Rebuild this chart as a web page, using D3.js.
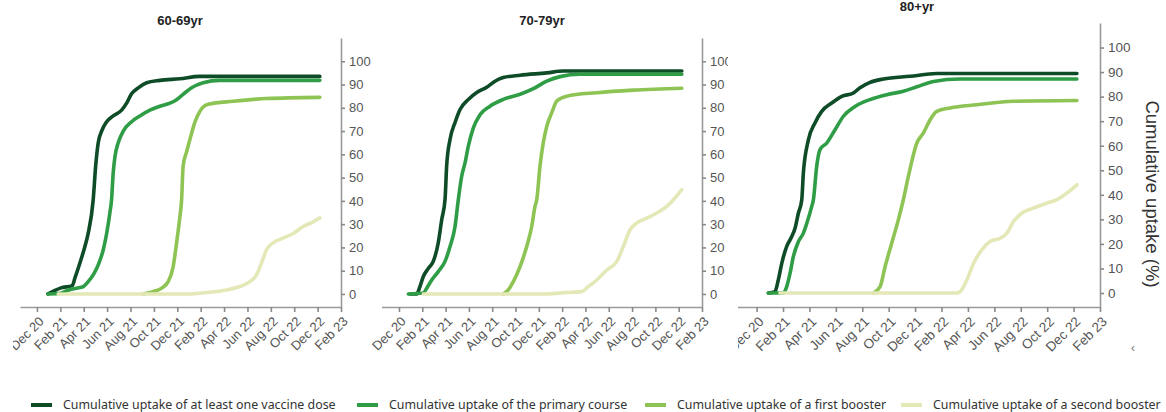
<!DOCTYPE html>
<html>
<head>
<meta charset="utf-8">
<script src="https://cdn.jsdelivr.net/npm/d3@7"></script>
<style>
  html, body { margin: 0; padding: 0; background: #fff; }
  svg { display: block; }
</style>
</head>
<body>
<svg id="chart" width="1166" height="412"></svg>
<script>
// ---------- DATA (x = months since Dec 2020, y = cumulative uptake %) ----------
const panelTitles = ["60-69yr", "70-79yr", "80+yr"];
const xTickMonths = [0, 2, 4, 6, 8, 10, 12, 14, 16, 18, 20, 22, 24, 26];
const xTickLabels = ["Dec 20","Feb 21","Apr 21","Jun 21","Aug 21","Oct 21","Dec 21","Feb 22","Apr 22","Jun 22","Aug 22","Oct 22","Dec 22","Feb 23"];
const yTickValues = [0, 10, 20, 30, 40, 50, 60, 70, 80, 90, 100];
const seriesNames = [
  "Cumulative uptake of at least one vaccine dose",
  "Cumulative uptake of the primary course",
  "Cumulative uptake of a first booster",
  "Cumulative uptake of a second booster"
];
const yAxisTitle = "Cumulative uptake (%)";

// 60-69yr
const age60_dose1 = [[0.94,0],[1.54,1.5],[2.05,2.6],[3.02,3.6],[3.25,6.9],[3.68,13.4],[4.10,20.4],[4.38,26],[4.81,40.5],[5.02,55],[5.24,65],[5.53,70],[5.96,74],[6.52,76.5],[7.24,79],[7.67,82],[8.09,86],[8.66,88.6],[9.38,90.8],[10.51,91.8],[12.22,92.5],[13.93,93.5],[24.19,93.5]];
const age60_primary = [[0.94,0],[2.05,0.3],[2.54,1.4],[3.39,2.5],[3.96,3.2],[4.38,5.3],[4.81,8.2],[5.24,12.5],[5.67,19],[5.96,26],[6.24,35],[6.38,40.5],[6.52,52],[6.67,59],[6.95,65],[7.38,70],[8.09,74],[8.80,76.5],[9.66,79],[10.51,80.7],[11.37,82],[11.94,83.5],[12.50,85.8],[13.22,88.6],[14.21,90.8],[15.64,91.8],[24.19,91.8]];
const age60_booster1 = [[9.09,0],[9.94,1],[10.66,2.5],[11.22,5.3],[11.65,11.8],[11.94,22],[12.22,33],[12.37,40.5],[12.50,55],[12.79,61],[13.08,66.4],[13.50,73.7],[13.93,78.5],[14.64,81.5],[16.78,82.8],[19.63,84],[24.19,84.5]];
const age60_booster2 = [[1.82,0],[12.79,0],[14.50,0.6],[16.21,1.7],[17.35,3.2],[18.21,5.3],[18.78,8.2],[19.21,13.4],[19.63,19],[20.20,22],[21.05,24],[21.91,26],[22.77,29],[23.62,31],[24.19,32.7]];

// 70-79yr
const age70_dose1 = [[0.94,0],[1.52,0],[1.80,3.2],[2.09,7.5],[2.52,11],[2.94,14],[3.37,22],[3.67,32],[3.95,40.5],[4.09,55],[4.38,66.4],[4.81,73.7],[5.24,79.3],[5.95,83.6],[6.67,86.6],[7.53,88.8],[8.24,91.4],[8.95,93],[10.39,94],[12.68,95],[14.10,95.8],[24.27,95.8]];
const age70_primary = [[0.80,0],[2.09,0.4],[2.38,2.5],[2.81,6],[3.37,9.6],[3.95,14],[4.38,20.4],[4.81,29],[5.09,40.5],[5.38,50.6],[5.67,56.4],[5.95,63.5],[6.38,71.4],[6.95,77],[7.81,80.7],[8.95,83.6],[10.39,85.8],[11.53,88.2],[12.68,91.5],[13.82,93.4],[15.54,94.4],[24.27,94.4]];
const age70_booster1 = [[8.95,0],[9.38,1.8],[9.81,5.3],[10.39,11.8],[10.96,20.4],[11.39,29],[11.67,37.6],[11.82,40.5],[12.10,55],[12.38,65],[12.68,72],[13.11,77.9],[13.54,82.9],[14.39,85],[16.97,86.5],[20.11,87.6],[24.27,88.4]];
const age70_booster2 = [[2.09,0],[12.68,0],[14.39,0.6],[15.68,1],[16.25,3.2],[16.97,6],[17.83,10.3],[18.69,14],[19.25,20.4],[19.83,27.6],[20.40,30.5],[21.26,32.6],[22.12,34.8],[22.98,37.6],[23.55,40.5],[24.27,44.8]];

// 80+yr
const age80_dose1 = [[0.89,0],[1.39,0.6],[1.64,5.3],[1.90,12],[2.28,19],[2.66,23],[2.91,26.4],[3.16,32.5],[3.42,38],[3.54,48.9],[3.92,62.4],[4.42,69.3],[4.93,74],[5.69,77.4],[6.45,80.1],[7.33,81.5],[7.83,83.6],[8.59,85.8],[9.60,87.2],[11.62,88.3],[13.64,89.4],[24.25,89.4]];
const age80_primary = [[0.89,0],[2.02,0],[2.28,2.6],[2.53,8],[2.78,14.8],[3.16,20.9],[3.54,24.4],[3.80,28.4],[4.17,35.2],[4.30,38],[4.55,51.6],[4.80,58.4],[5.31,61.1],[5.94,66.5],[6.57,72],[7.45,76],[8.59,78.8],[9.86,80.8],[11.11,82.2],[12.13,84],[13.39,86.2],[15.41,87.2],[24.25,87.2]];
const age80_booster1 = [[8.84,0],[9.35,2.6],[9.73,10.8],[10.23,20.3],[10.73,29.8],[11.11,38],[11.49,47.5],[12.13,61.1],[12.63,65.2],[13.14,70.6],[13.64,74],[14.65,75.4],[16.67,76.7],[19.45,78.1],[24.25,78.4]];
const age80_booster2 = [[1.77,0],[15.16,0],[15.41,0.6],[15.92,5.3],[16.42,12],[17.05,17.6],[17.68,21],[18.44,22.3],[18.95,24.4],[19.45,29.1],[20.08,32.5],[20.96,34.6],[21.98,36.6],[22.73,38],[23.49,40.7],[24.25,44.1]];

const panelData = [
  [age60_dose1, age60_primary, age60_booster1, age60_booster2],
  [age70_dose1, age70_primary, age70_booster1, age70_booster2],
  [age80_dose1, age80_primary, age80_booster1, age80_booster2]
];

// ---------- STYLE / LAYOUT ----------
const colors = ["#0e4b27", "#2f9d45", "#8dc454", "#e4e8b7"];
const panels = [
  { x0: 20,    x1: 341,  xMin: -1.45, yTop: 38, yBot: 307, yMin: -5.6, titleX: 180, titleY: 25, clip: [13, 0, 360, 412], tickFont: 13 },
  { x0: 381.5, x1: 702,  xMin: -1.5,  yTop: 38, yBot: 307, yMin: -5.6, titleX: 542, titleY: 25, clip: [370, 0, 358, 412], tickFont: 13 },
  { x0: 736.8, x1: 1100, xMin: -1.5,  yTop: 23, yBot: 307, yMin: -5.7, titleX: 917, titleY: 11, clip: [738, 0, 428, 412], tickFont: 13.5 }
];

const svg = d3.select("#chart");
const defs = svg.append("defs");
const tickFontFamily = "'Liberation Sans', Arial, sans-serif";

panels.forEach((p, i) => {
  defs.append("clipPath").attr("id", "clip" + i)
    .append("rect").attr("x", p.clip[0]).attr("y", p.clip[1]).attr("width", p.clip[2]).attr("height", p.clip[3]);

  const g = svg.append("g").attr("clip-path", `url(#clip${i})`);

  const x = d3.scaleLinear().domain([p.xMin, 26]).range([p.x0, p.x1]);
  const y = d3.scaleLinear().domain([p.yMin, 110]).range([p.yBot, p.yTop]);

  // title
  g.append("text")
    .attr("x", p.titleX).attr("y", p.titleY)
    .attr("text-anchor", "middle")
    .style("font-family", tickFontFamily)
    .style("font-weight", "bold")
    .style("font-size", "13px")
    .style("fill", "#222")
    .text(panelTitles[i]);

  // x axis
  const xAxis = d3.axisBottom(x)
    .tickValues(xTickMonths)
    .tickFormat((d, k) => xTickLabels[k])
    .tickSizeOuter(0)
    .tickSizeInner(5);
  const gx = g.append("g").attr("transform", `translate(0,${p.yBot})`).call(xAxis);
  gx.select(".domain").attr("stroke", "#9a9a9a").attr("stroke-width", 1.6);
  gx.selectAll(".tick line").attr("stroke", "#8a8a8a").attr("stroke-width", 1.6);
  gx.selectAll(".tick text")
    .attr("x", 0).attr("y", 0)
    .attr("dy", "0.35em")
    .attr("text-anchor", "end")
    .attr("transform", "translate(4,12) rotate(-45)")
    .style("font-family", tickFontFamily)
    .style("font-size", p.tickFont + "px")
    .style("fill", "#555");

  // y axis (right)
  const yAxis = d3.axisRight(y)
    .tickValues(yTickValues)
    .tickSizeOuter(0)
    .tickSizeInner(4)
    .tickPadding(4);
  const gy = g.append("g").attr("transform", `translate(${p.x1},0)`).call(yAxis);
  gy.select(".domain").attr("stroke", "#9a9a9a").attr("stroke-width", 1.6);
  gy.selectAll(".tick line").attr("stroke", "#8a8a8a").attr("stroke-width", 1.6);
  gy.selectAll(".tick text")
    .style("font-family", tickFontFamily)
    .style("font-size", p.tickFont + "px")
    .style("fill", "#555");

  // lines
  const line = d3.line()
    .x(d => x(d[0]))
    .y(d => y(d[1]))
    .curve(d3.curveMonotoneX);

  panelData[i].forEach((ser, s) => {
    g.append("path")
      .datum(ser)
      .attr("d", line)
      .attr("fill", "none")
      .attr("stroke", colors[s])
      .attr("stroke-width", 3.6)
      .attr("stroke-linejoin", "round")
      .attr("stroke-linecap", "round");
  });
});

// y axis title (right side)
svg.append("text")
  .attr("transform", "translate(1146,194) rotate(90)")
  .attr("text-anchor", "middle")
  .style("font-family", tickFontFamily)
  .style("font-size", "18.5px")
  .style("fill", "#333")
  .text(yAxisTitle);

// small stray arrow glyph
svg.append("text")
  .attr("x", 1131).attr("y", 352)
  .style("font-family", tickFontFamily)
  .style("font-size", "12px")
  .style("fill", "#777")
  .text("‹");

// legend
const legendX = [31, 357, 645, 901];
const lg = svg.append("g");
seriesNames.forEach((name, s) => {
  lg.append("line")
    .attr("x1", legendX[s]).attr("x2", legendX[s] + 21)
    .attr("y1", 405).attr("y2", 405)
    .attr("stroke", colors[s]).attr("stroke-width", 4);
  lg.append("text")
    .attr("x", legendX[s] + 32).attr("y", 408.5)
    .style("font-family", "'Noto Sans', 'Open Sans', sans-serif")
    .style("font-size", "12.4px")
    .style("fill", "#333")
    .text(name);
});
</script>
</body>
</html>
